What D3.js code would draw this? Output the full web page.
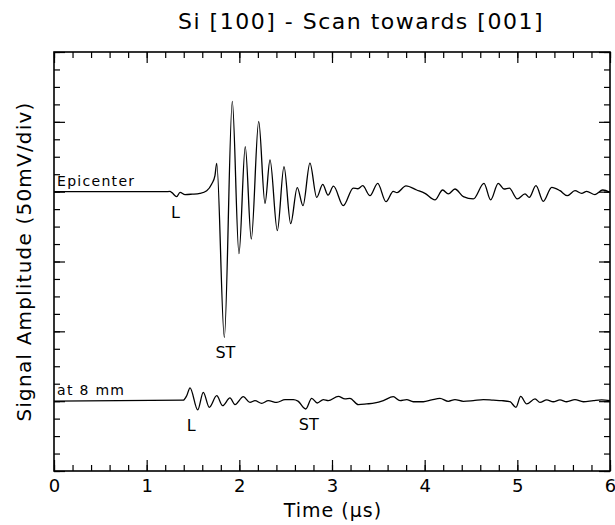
<!DOCTYPE html>
<html><head><meta charset="utf-8">
<script src="https://cdn.jsdelivr.net/npm/d3@7"></script>
<style>body{margin:0;background:#fff}</style>
</head><body>
<svg id="chart" width="615" height="525"></svg>
<script>
const title = "Si [100] - Scan towards [001]";
const xLabel = "Time (\u00b5s)";
const yLabel = "Signal Amplitude (50mV/div)";
const xTickValues = [0, 1, 2, 3, 4, 5, 6];
const traceNames = ["Epicenter", "at 8 mm"];
const traceOffsets = [200, 50]; // mV baseline of each trace (50 mV/div)

// Epicenter trace: time (µs) and amplitude (mV)
const epiTime = [0, 1.198, 1.252, 1.273, 1.324, 1.360, 1.414, 1.489, 1.575, 1.648, 1.702, 1.737, 1.756,
  1.838, 1.924, 1.996, 2.064, 2.129, 2.209, 2.277, 2.331, 2.410, 2.482, 2.554, 2.625, 2.687, 2.762,
  2.835, 2.900, 2.957, 3.016, 3.122, 3.230, 3.280, 3.331, 3.410, 3.493, 3.583, 3.661, 3.701, 3.798,
  3.914, 4.003, 4.111, 4.194, 4.255, 4.327, 4.417, 4.525, 4.640, 4.712, 4.794, 4.856, 4.913, 4.999,
  5.083, 5.129, 5.201, 5.280, 5.371, 5.460, 5.539, 5.622, 5.694, 5.748, 5.838, 5.921, 6.0];
const epiAmp = [0, 0, 0.2, -0.7, -3.6, -0.5, -2.1, -1.8, -1.2, 0.7, 5.5, 11.5, 20.3,
  -104.3, 64.7, -44.4, 32.2, -33.9, 50.3, -8.4, 22.7, -27.9, 17.9, -22.9, 2.9, -10.0, 20.5,
  -4.1, 5.2, -2.5, 3.9, -10.0, 2.6, 2.1, 4.3, -2.9, 5.9, -7.2, 0.2, -0.7, 4.1,
  1.2, -1.2, -5.9, 1.2, -1.6, 1.9, -3.6, -5.2, 5.9, -5.9, 5.9, 1.9, 2.6, -5.2,
  -1.6, -4.1, 4.3, -6.9, 3.1, 0.7, -2.9, 0.7, -1.2, 0.2, -2.1, 1.2, -0.5];

// Trace at 8 mm: time (µs) and amplitude (mV)
const mm8Time = [0, 1.395, 1.432, 1.468, 1.551, 1.611, 1.676, 1.756, 1.820, 1.899, 1.953, 2.043, 2.115,
  2.169, 2.241, 2.313, 2.404, 2.493, 2.583, 2.633, 2.716, 2.781, 2.841, 2.906, 2.960, 3.068, 3.140,
  3.194, 3.284, 3.374, 3.464, 3.554, 3.661, 3.734, 3.806, 3.877, 3.985, 4.076, 4.165, 4.255, 4.327,
  4.417, 4.525, 4.633, 4.741, 4.831, 4.921, 4.985, 5.036, 5.101, 5.191, 5.244, 5.317, 5.388, 5.460,
  5.532, 5.622, 5.712, 5.820, 5.910, 6.0];
const mm8Amp = [0, 0.7, 3.9, 9.5, -6.3, 6.3, -4.4, 3.9, -3.2, 2.3, -2.5, 3.2, -0.9,
  0.4, -1.6, 0.4, -0.9, 1.1, 1.1, 0, -5.6, 2.0, -1.3, 1.1, 0.4, 3.4, 1.6,
  2.0, -2.5, -2.0, -1.3, 0.4, 3.2, 0.4, 1.1, -0.4, -0.4, 0.9, 2.0, -0.1, 1.1,
  -0.1, 0.4, 1.1, 0.7, 0.4, -0.4, -4.4, 3.4, -2.0, 1.6, -0.9, 0.9, -0.4, 0.9,
  -0.4, 1.1, -0.4, 0.4, 0.9, 0.4];

// Annotations: trace index, time, label
const annTrace = [0, 0, 1, 1];
const annTime = [1.31, 1.85, 1.48, 2.75];
const annText = ["L", "ST", "L", "ST"];

const FONT = "'DejaVu Sans', sans-serif";
const svg = d3.select("#chart");
const L = 54, R = 610, T = 52, B = 471;
const x = d3.scaleLinear().domain([0, 6]).range([L, R]);
const y = d3.scaleLinear().domain([0, 300]).range([B, T]);

const minorX = d3.range(0, 6.0001, 0.2);
const minorY = d3.range(0, 300.001, 12.5);
const majorY = d3.range(0, 300.001, 50);
const MAJ = 11, MIN = 6;

function strip(g) { g.select(".domain").remove(); g.selectAll("line").attr("stroke", "#000").attr("stroke-width", 1.2); }

svg.append("g").attr("transform", `translate(0,${B})`)
  .call(d3.axisBottom(x).tickValues(minorX).tickSizeInner(-MIN).tickSizeOuter(0).tickFormat("")).call(strip);
svg.append("g").attr("transform", `translate(0,${B})`)
  .call(d3.axisBottom(x).tickValues(xTickValues).tickSizeInner(-MAJ).tickSizeOuter(0).tickPadding(8).tickFormat(d3.format("d")))
  .call(strip)
  .selectAll("text").attr("font-family", FONT).attr("font-size", 18).attr("fill", "#000");
svg.append("g").attr("transform", `translate(0,${T})`)
  .call(d3.axisTop(x).tickValues(minorX).tickSizeInner(-MIN).tickSizeOuter(0).tickFormat("")).call(strip);
svg.append("g").attr("transform", `translate(0,${T})`)
  .call(d3.axisTop(x).tickValues(xTickValues).tickSizeInner(-MAJ).tickSizeOuter(0).tickFormat("")).call(strip);
svg.append("g").attr("transform", `translate(${L},0)`)
  .call(d3.axisLeft(y).tickValues(minorY).tickSizeInner(-MIN).tickSizeOuter(0).tickFormat("")).call(strip);
svg.append("g").attr("transform", `translate(${L},0)`)
  .call(d3.axisLeft(y).tickValues(majorY).tickSizeInner(-MAJ).tickSizeOuter(0).tickFormat("")).call(strip);
svg.append("g").attr("transform", `translate(${R},0)`)
  .call(d3.axisRight(y).tickValues(minorY).tickSizeInner(-MIN).tickSizeOuter(0).tickFormat("")).call(strip);
svg.append("g").attr("transform", `translate(${R},0)`)
  .call(d3.axisRight(y).tickValues(majorY).tickSizeInner(-MAJ).tickSizeOuter(0).tickFormat("")).call(strip);

svg.append("rect").attr("x", L).attr("y", T).attr("width", R - L).attr("height", B - T)
  .attr("fill", "none").attr("stroke", "#000").attr("stroke-width", 1.6);

const traces = [
  { t: epiTime, a: epiAmp, off: traceOffsets[0] },
  { t: mm8Time, a: mm8Amp, off: traceOffsets[1] }
];
const line = d3.line().x(d => x(d[0])).y(d => y(d[1])).curve(d3.curveMonotoneX);
traces.forEach(tr => {
  const pts = tr.t.map((t, i) => [t, tr.off + tr.a[i]]);
  svg.append("path").datum(pts).attr("d", line)
    .attr("fill", "none").attr("stroke", "#000").attr("stroke-width", 1.3).attr("stroke-linejoin", "round");
});

// trace names
traceNames.forEach((n, i) => {
  svg.append("text").attr("x", x(0) + 3).attr("y", y(traceOffsets[i]) - 6)
    .attr("font-family", FONT).attr("font-size", 14).attr("letter-spacing", 1.3).attr("fill", "#000").text(n);
});

// annotations below troughs
annText.forEach((s, k) => {
  const tr = traces[annTrace[k]];
  const idx = d3.range(tr.t.length).filter(i => Math.abs(tr.t[i] - annTime[k]) < 0.08);
  const minA = d3.min(idx, i => tr.a[i]);
  const yy = y(tr.off + Math.min(minA, 0)) + 21;
  svg.append("text").attr("x", x(annTime[k])).attr("y", yy).attr("text-anchor", "middle")
    .attr("font-family", FONT).attr("font-size", 16).attr("fill", "#000").text(s);
});

svg.append("text").attr("x", 361).attr("y", 29).attr("text-anchor", "middle")
  .attr("font-family", FONT).attr("font-size", 22).attr("letter-spacing", 1.5).attr("fill", "#000").text(title);
svg.append("text").attr("x", 333).attr("y", 517).attr("text-anchor", "middle")
  .attr("font-family", FONT).attr("font-size", 19).attr("letter-spacing", 1).attr("fill", "#000").text(xLabel);
svg.append("text").attr("transform", `translate(31,${(T + B) / 2}) rotate(-90)`).attr("text-anchor", "middle")
  .attr("font-family", FONT).attr("font-size", 20).attr("letter-spacing", 1.2).attr("fill", "#000").text(yLabel);
</script>
</body></html>
